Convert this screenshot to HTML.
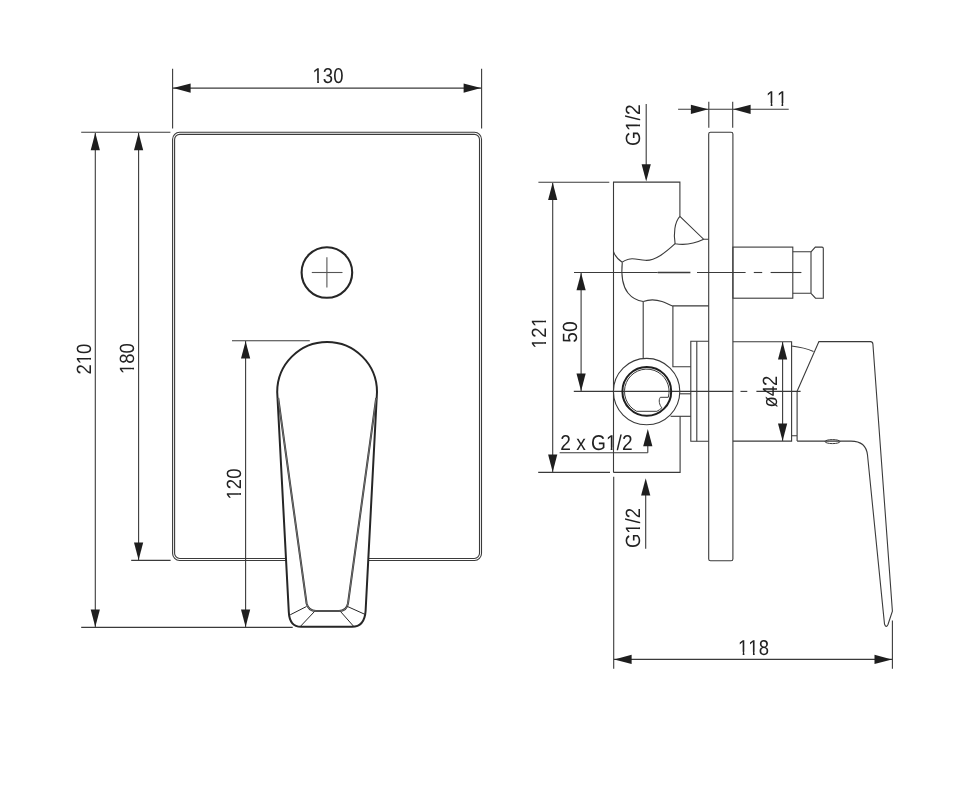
<!DOCTYPE html>
<html><head><meta charset="utf-8"><style>
html,body{margin:0;padding:0;background:#fff;}
svg{display:block;}
text{font-family:"Liberation Sans",sans-serif;fill:#222;text-rendering:geometricPrecision;font-kerning:none;}
</style></head><body>
<svg width="965" height="787" viewBox="0 0 965 787">
<defs><mask id="m0" maskUnits="userSpaceOnUse" x="-200" y="-100" width="400" height="200"><rect x="-200" y="-100" width="400" height="200" fill="#fff"/><rect x="-18.46" y="-2.81" width="5.88" height="4.01" fill="#000"/><rect x="-10.58" y="-2.81" width="4.40" height="4.01" fill="#000"/></mask><mask id="m1" maskUnits="userSpaceOnUse" x="-200" y="-100" width="400" height="200"><rect x="-200" y="-100" width="400" height="200" fill="#fff"/><rect x="-6.24" y="-2.74" width="5.63" height="3.94" fill="#000"/><rect x="1.32" y="-2.74" width="4.21" height="3.94" fill="#000"/></mask><mask id="m2" maskUnits="userSpaceOnUse" x="-200" y="-100" width="400" height="200"><rect x="-200" y="-100" width="400" height="200" fill="#fff"/><rect x="-17.69" y="-2.74" width="5.63" height="3.94" fill="#000"/><rect x="-10.14" y="-2.74" width="4.21" height="3.94" fill="#000"/></mask><mask id="m3" maskUnits="userSpaceOnUse" x="-200" y="-100" width="400" height="200"><rect x="-200" y="-100" width="400" height="200" fill="#fff"/><rect x="-17.69" y="-2.74" width="5.63" height="3.94" fill="#000"/><rect x="-10.14" y="-2.74" width="4.21" height="3.94" fill="#000"/></mask><mask id="m4" maskUnits="userSpaceOnUse" x="-200" y="-100" width="400" height="200"><rect x="-200" y="-100" width="400" height="200" fill="#fff"/><rect x="-6.82" y="-2.74" width="5.63" height="3.94" fill="#000"/><rect x="0.74" y="-2.74" width="4.21" height="3.94" fill="#000"/></mask><mask id="m5" maskUnits="userSpaceOnUse" x="-200" y="-100" width="400" height="200"><rect x="-200" y="-100" width="400" height="200" fill="#fff"/><rect x="-13.09" y="-2.81" width="5.88" height="4.01" fill="#000"/><rect x="-5.20" y="-2.81" width="4.40" height="4.01" fill="#000"/><rect x="-0.54" y="-2.81" width="5.88" height="4.01" fill="#000"/><rect x="7.34" y="-2.81" width="4.40" height="4.01" fill="#000"/></mask><mask id="m6" maskUnits="userSpaceOnUse" x="-200" y="-100" width="400" height="200"><rect x="-200" y="-100" width="400" height="200" fill="#fff"/><rect x="-18.44" y="-2.74" width="5.63" height="3.94" fill="#000"/><rect x="-10.89" y="-2.74" width="4.21" height="3.94" fill="#000"/><rect x="5.47" y="-2.74" width="5.63" height="3.94" fill="#000"/><rect x="13.02" y="-2.74" width="4.21" height="3.94" fill="#000"/></mask><mask id="m8" maskUnits="userSpaceOnUse" x="-200" y="-100" width="400" height="200"><rect x="-200" y="-100" width="400" height="200" fill="#fff"/><rect x="50.85" y="-2.81" width="5.88" height="4.01" fill="#000"/><rect x="58.73" y="-2.81" width="4.40" height="4.01" fill="#000"/></mask><mask id="m9" maskUnits="userSpaceOnUse" x="-200" y="-100" width="400" height="200"><rect x="-200" y="-100" width="400" height="200" fill="#fff"/><rect x="-6.82" y="-2.74" width="5.63" height="3.94" fill="#000"/><rect x="0.74" y="-2.74" width="4.21" height="3.94" fill="#000"/></mask><mask id="m10" maskUnits="userSpaceOnUse" x="-200" y="-100" width="400" height="200"><rect x="-200" y="-100" width="400" height="200" fill="#fff"/><rect x="-18.46" y="-2.81" width="5.88" height="4.01" fill="#000"/><rect x="-10.58" y="-2.81" width="4.40" height="4.01" fill="#000"/><rect x="-6.51" y="-2.81" width="5.88" height="4.01" fill="#000"/><rect x="1.37" y="-2.81" width="4.40" height="4.01" fill="#000"/></mask></defs>
<rect width="965" height="787" fill="#fff"/>
<line x1="172.6" y1="68.7" x2="172.6" y2="128.5" stroke="#3a3a3a" stroke-width="1.1" />
<line x1="481.6" y1="68.7" x2="481.6" y2="128.5" stroke="#3a3a3a" stroke-width="1.1" />
<line x1="172.6" y1="88.1" x2="481.6" y2="88.1" stroke="#3a3a3a" stroke-width="1.1" />
<polygon points="173.2,88.1 190.6,83.5 190.6,92.7" fill="#1e1e1e"/>
<polygon points="481.0,88.1 463.6,83.5 463.6,92.7" fill="#1e1e1e"/>
<text transform="translate(328,82.7) scale(0.86,1)" x="0" y="0" text-anchor="middle" style="font-size:21.5px;" mask="url(#m0)">130</text>
<rect x="172.6" y="132.3" width="308.9" height="428.2" rx="7" ry="7" fill="none" stroke="#3a3a3a" stroke-width="1.1"/>
<rect x="174.6" y="134.4" width="304.9" height="424.1" rx="5.2" ry="5.2" fill="none" stroke="#3a3a3a" stroke-width="1.1"/>
<line x1="81.2" y1="132.3" x2="170.4" y2="132.3" stroke="#3a3a3a" stroke-width="1.1" />
<line x1="131.2" y1="560.4" x2="170.6" y2="560.4" stroke="#3a3a3a" stroke-width="1.1" />
<line x1="81.2" y1="627.4" x2="292.7" y2="627.4" stroke="#3a3a3a" stroke-width="1.1" />
<line x1="232" y1="340.7" x2="309.8" y2="340.7" stroke="#3a3a3a" stroke-width="1.1" />
<line x1="95.3" y1="133" x2="95.3" y2="627" stroke="#3a3a3a" stroke-width="1.1" />
<polygon points="95.3,132.8 90.7,150.2 99.9,150.2" fill="#1e1e1e"/>
<polygon points="95.3,626.9 90.7,609.5 99.9,609.5" fill="#1e1e1e"/>
<text transform="translate(91.1,359.1) rotate(-90) scale(0.898,1)" x="0" y="0" text-anchor="middle" style="font-size:20.6px;" mask="url(#m1)">210</text>
<line x1="138.6" y1="133" x2="138.6" y2="560" stroke="#3a3a3a" stroke-width="1.1" />
<polygon points="138.6,132.8 134.0,150.2 143.2,150.2" fill="#1e1e1e"/>
<polygon points="138.6,559.9 134.0,542.5 143.2,542.5" fill="#1e1e1e"/>
<text transform="translate(134.0,358.6) rotate(-90) scale(0.898,1)" x="0" y="0" text-anchor="middle" style="font-size:20.6px;" mask="url(#m2)">180</text>
<line x1="245.6" y1="341" x2="245.6" y2="627" stroke="#3a3a3a" stroke-width="1.1" />
<polygon points="245.6,341.2 241.0,358.6 250.2,358.6" fill="#1e1e1e"/>
<polygon points="245.6,626.9 241.0,609.5 250.2,609.5" fill="#1e1e1e"/>
<text transform="translate(241.1,484.0) rotate(-90) scale(0.898,1)" x="0" y="0" text-anchor="middle" style="font-size:20.6px;" mask="url(#m3)">120</text>
<circle cx="326.9" cy="272.5" r="25.3" fill="none" stroke="#262626" stroke-width="2.1"/>
<line x1="311.8" y1="272.5" x2="342.5" y2="272.5" stroke="#555" stroke-width="1.1" />
<line x1="326.9" y1="257.3" x2="326.9" y2="287.6" stroke="#555" stroke-width="1.1" />
<path d="M277.2,392 A49.9,50 0 0 1 377,392 L365.6,611 Q364.5,626.8 352,626.8 L301,626.8 Q289.5,626.8 288.8,612 Z" stroke="#262626" stroke-width="2.0" fill="#fff" />
<path d="M278.2,398 L306.6,603.5 Q308.5,611 316,611 L339,611 Q346.5,611 348.0,603.5 L376.2,398" stroke="#333" stroke-width="2.0" fill="none" />
<path d="M278.2,398 L306.6,603.5 Q308.5,611 316,611 L339,611 Q346.5,611 348.0,603.5 L376.2,398" stroke="#999" stroke-width="0.6" fill="none" />
<line x1="306.5" y1="606.5" x2="290.2" y2="614.8" stroke="#262626" stroke-width="1.0" />
<line x1="314.5" y1="611.5" x2="300.5" y2="626.3" stroke="#262626" stroke-width="1.0" />
<line x1="347.5" y1="606.5" x2="364.8" y2="614.3" stroke="#262626" stroke-width="1.0" />
<line x1="340.5" y1="611.5" x2="353.6" y2="626.3" stroke="#262626" stroke-width="1.0" />
<line x1="646.2" y1="104" x2="646.2" y2="165" stroke="#3a3a3a" stroke-width="1.1" />
<polygon points="646.2,181.6 641.6,164.2 650.8,164.2" fill="#1e1e1e"/>
<text transform="translate(640.4,125.2) rotate(-90) scale(0.93,1)" x="0" y="0" text-anchor="middle" style="font-size:20.6px;" mask="url(#m4)">G1/2</text>
<line x1="708.8" y1="101.8" x2="708.8" y2="127.8" stroke="#3a3a3a" stroke-width="1.1" />
<line x1="732.7" y1="101.8" x2="732.7" y2="127.8" stroke="#3a3a3a" stroke-width="1.1" />
<line x1="678.1" y1="109.3" x2="788.7" y2="109.3" stroke="#3a3a3a" stroke-width="1.1" />
<polygon points="708.3,109.3 690.9,104.7 690.9,113.9" fill="#1e1e1e"/>
<polygon points="733.2,109.3 750.6,104.7 750.6,113.9" fill="#1e1e1e"/>
<text transform="translate(776.9,105.9) scale(0.86,1)" x="0" y="0" text-anchor="middle" style="font-size:21.5px;letter-spacing:0.6px;" mask="url(#m5)">11</text>
<rect x="708.7" y="132.3" width="24.2" height="428.4" rx="1.8" ry="1.8" fill="none" stroke="#3a3a3a" stroke-width="1.1"/>
<line x1="538.4" y1="182.2" x2="609.3" y2="182.2" stroke="#3a3a3a" stroke-width="1.1" />
<line x1="538.2" y1="472.4" x2="610" y2="472.4" stroke="#3a3a3a" stroke-width="1.1" />
<line x1="552.7" y1="183" x2="552.7" y2="472" stroke="#3a3a3a" stroke-width="1.1" />
<polygon points="552.7,182.6 548.1,200.0 557.3,200.0" fill="#1e1e1e"/>
<polygon points="552.7,472.0 548.1,454.6 557.3,454.6" fill="#1e1e1e"/>
<text transform="translate(546.0,332.3) rotate(-90) scale(0.898,1)" x="0" y="0" text-anchor="middle" style="font-size:20.6px;letter-spacing:0.5px;" mask="url(#m6)">121</text>
<line x1="574.0" y1="272.5" x2="657.7" y2="272.5" stroke="#3a3a3a" stroke-width="1.1" />
<line x1="573.8" y1="391.4" x2="733.1" y2="391.4" stroke="#3a3a3a" stroke-width="1.1" />
<line x1="740.5" y1="391.4" x2="747.3" y2="391.4" stroke="#3a3a3a" stroke-width="1.1" />
<line x1="756.4" y1="391.4" x2="800.6" y2="391.4" stroke="#3a3a3a" stroke-width="1.1" />
<line x1="581.1" y1="273" x2="581.1" y2="391" stroke="#3a3a3a" stroke-width="1.1" />
<polygon points="581.1,272.9 576.5,290.3 585.7,290.3" fill="#1e1e1e"/>
<polygon points="581.1,391.0 576.5,373.6 585.7,373.6" fill="#1e1e1e"/>
<text transform="translate(577.4,332.0) rotate(-90) scale(0.93,1)" x="0" y="0" text-anchor="middle" style="font-size:20.6px;" opacity="0.999">50</text>
<line x1="657.7" y1="272.5" x2="690.4" y2="272.5" stroke="#3a3a3a" stroke-width="1.5" />
<line x1="697" y1="272.5" x2="745.6" y2="272.5" stroke="#3a3a3a" stroke-width="1.1" />
<line x1="753.8" y1="272.5" x2="762.2" y2="272.5" stroke="#3a3a3a" stroke-width="1.1" />
<line x1="770.6" y1="272.5" x2="801.4" y2="272.5" stroke="#3a3a3a" stroke-width="1.1" />
<path d="M613.5,472.4 L613.5,182.1 L679.9,182.1 L679.9,216.4" stroke="#3a3a3a" stroke-width="1.1" fill="none" />
<path d="M680.1,416.3 L680.1,472.4 L613.5,472.4" stroke="#3a3a3a" stroke-width="1.1" fill="none" />
<path d="M679.9,216.4 L703.7,239.3 L708.7,239.3" stroke="#3a3a3a" stroke-width="1.1" fill="none" />
<path d="M679.9,216.4 C674.6,222 673.4,234 675.1,243.7 C685,245.5 695,243.5 703.7,239.3" stroke="#3a3a3a" stroke-width="1.1" fill="none" />
<path d="M675.1,243.7 C665,253 655,261 645.2,260.3 C638,259.6 633,257.8 628.5,259.2 C625.5,260 623.5,261 622.3,262.2" stroke="#3a3a3a" stroke-width="1.1" fill="none" />
<path d="M613.5,251.6 C615,256 618,259.5 622.3,262.2" stroke="#3a3a3a" stroke-width="1.1" fill="none" />
<path d="M622.3,262.2 C621.5,270 621,284 628,293 C632,298 637,300.6 643.3,301.5" stroke="#3a3a3a" stroke-width="1.1" fill="none" />
<path d="M643.3,301.5 C650,299 656,299.5 662,301.5 C666,303 669,304.8 672.5,305.9 L708.7,305.9" stroke="#3a3a3a" stroke-width="1.1" fill="none" />
<line x1="643.2" y1="301.5" x2="643.2" y2="358.2" stroke="#3a3a3a" stroke-width="1.1" />
<path d="M672.9,305.9 L672.9,366.7 L690.8,366.7" stroke="#3a3a3a" stroke-width="1.1" fill="none" />
<path d="M708.7,341.3 L690.8,341.3 L690.8,441.3 L708.7,441.3" stroke="#3a3a3a" stroke-width="1.1" fill="none" />
<line x1="696.8" y1="341.3" x2="696.8" y2="441.3" stroke="#3a3a3a" stroke-width="1.1" />
<line x1="679.9" y1="393.8" x2="690.8" y2="393.8" stroke="#3a3a3a" stroke-width="1.1" />
<line x1="670.6" y1="416.3" x2="690.8" y2="416.3" stroke="#3a3a3a" stroke-width="1.1" />
<circle cx="646.6" cy="391.6" r="33.2" fill="none" stroke="#3a3a3a" stroke-width="1.1"/>
<circle cx="646.8" cy="391.4" r="24.4" fill="none" stroke="#1f1f1f" stroke-width="2.0"/>
<path d="M668.3,397.3 A22.3,22.3 0 1 0 636.7,411.3 L656.9,411.3 A22.3,22.3 0 0 0 661.9,407.8 C659.3,405 658.3,400 660.3,397.3 Z" stroke="#3a3a3a" stroke-width="1.0" fill="none" />
<rect x="732.9" y="247.1" width="59.9" height="51.1" fill="none" stroke="#3a3a3a" stroke-width="1.1"/>
<path d="M792.8,251.8 L811,251.8 M792.8,293.3 L811,293.3 M811,251.8 L811,293.3" stroke="#3a3a3a" stroke-width="1.1" fill="none" />
<path d="M811,251.8 L815.3,247.1 L822,247.1 Q823.3,247.1 823.3,248.5 L823.3,298.2 L815.5,298.2 L811,293.3" stroke="#3a3a3a" stroke-width="1.1" fill="none" />
<path d="M732.9,341.7 L791.6,341.7 L791.6,441.1 L732.9,441.1" stroke="#3a3a3a" stroke-width="1.1" fill="none" />
<path d="M791.6,346 C800,347 807,348.6 813.5,351.4" stroke="#3a3a3a" stroke-width="1.1" fill="none" />
<path d="M791.6,435.7 L797.1,435.7 M797.1,391.2 L797.1,441.1" stroke="#3a3a3a" stroke-width="1.1" fill="none" />
<path d="M797.1,391.2 L818.9,341.6 L870.5,341.6 Q872.6,341.6 872.9,344 L892.4,611.2 L888,624.5 Q886,628.5 884.5,624 L883.5,614.3 L867.5,455 Q866,441.1 851,441.1 L797.1,441.1" stroke="#3a3a3a" stroke-width="1.1" fill="none" />
<ellipse cx="832.5" cy="441.6" rx="7.5" ry="2.0" fill="none" stroke="#3a3a3a" stroke-width="1.0"/>
<line x1="559.6" y1="452.8" x2="647.8" y2="452.8" stroke="#3a3a3a" stroke-width="1.1" />
<line x1="647.8" y1="445" x2="647.8" y2="452.8" stroke="#3a3a3a" stroke-width="1.1" />
<polygon points="647.8,428.9 643.2,446.3 652.4,446.3" fill="#1e1e1e"/>
<text transform="translate(560.2,450.4) scale(0.89,1)" x="0" y="0" text-anchor="start" style="font-size:21.5px;" mask="url(#m8)">2 x G1/2</text>
<line x1="645.7" y1="490" x2="645.7" y2="548.7" stroke="#3a3a3a" stroke-width="1.1" />
<polygon points="645.7,478.2 641.1,495.6 650.3,495.6" fill="#1e1e1e"/>
<text transform="translate(640.4,528.0) rotate(-90) scale(0.898,1)" x="0" y="0" text-anchor="middle" style="font-size:20.6px;" mask="url(#m9)">G1/2</text>
<line x1="613.7" y1="476.7" x2="613.7" y2="668.8" stroke="#3a3a3a" stroke-width="1.1" />
<line x1="892.4" y1="620.6" x2="892.4" y2="668.8" stroke="#3a3a3a" stroke-width="1.1" />
<line x1="613.7" y1="659.4" x2="892.4" y2="659.4" stroke="#3a3a3a" stroke-width="1.1" />
<polygon points="614.2,659.4 631.6,654.8 631.6,664.0" fill="#1e1e1e"/>
<polygon points="891.9,659.4 874.5,654.8 874.5,664.0" fill="#1e1e1e"/>
<text transform="translate(753.5,654.6) scale(0.86,1)" x="0" y="0" text-anchor="middle" style="font-size:21.5px;" mask="url(#m10)">118</text>
<line x1="782.6" y1="342" x2="782.6" y2="441" stroke="#3a3a3a" stroke-width="1.1" />
<polygon points="782.6,342.0 778.0,359.4 787.2,359.4" fill="#1e1e1e"/>
<polygon points="782.6,441.0 778.0,423.6 787.2,423.6" fill="#1e1e1e"/>
<text transform="translate(776.9,391.6) rotate(-90) scale(0.898,1)" x="0" y="0" text-anchor="middle" style="font-size:20.6px;" opacity="0.999">ø42</text>
</svg>
</body></html>
